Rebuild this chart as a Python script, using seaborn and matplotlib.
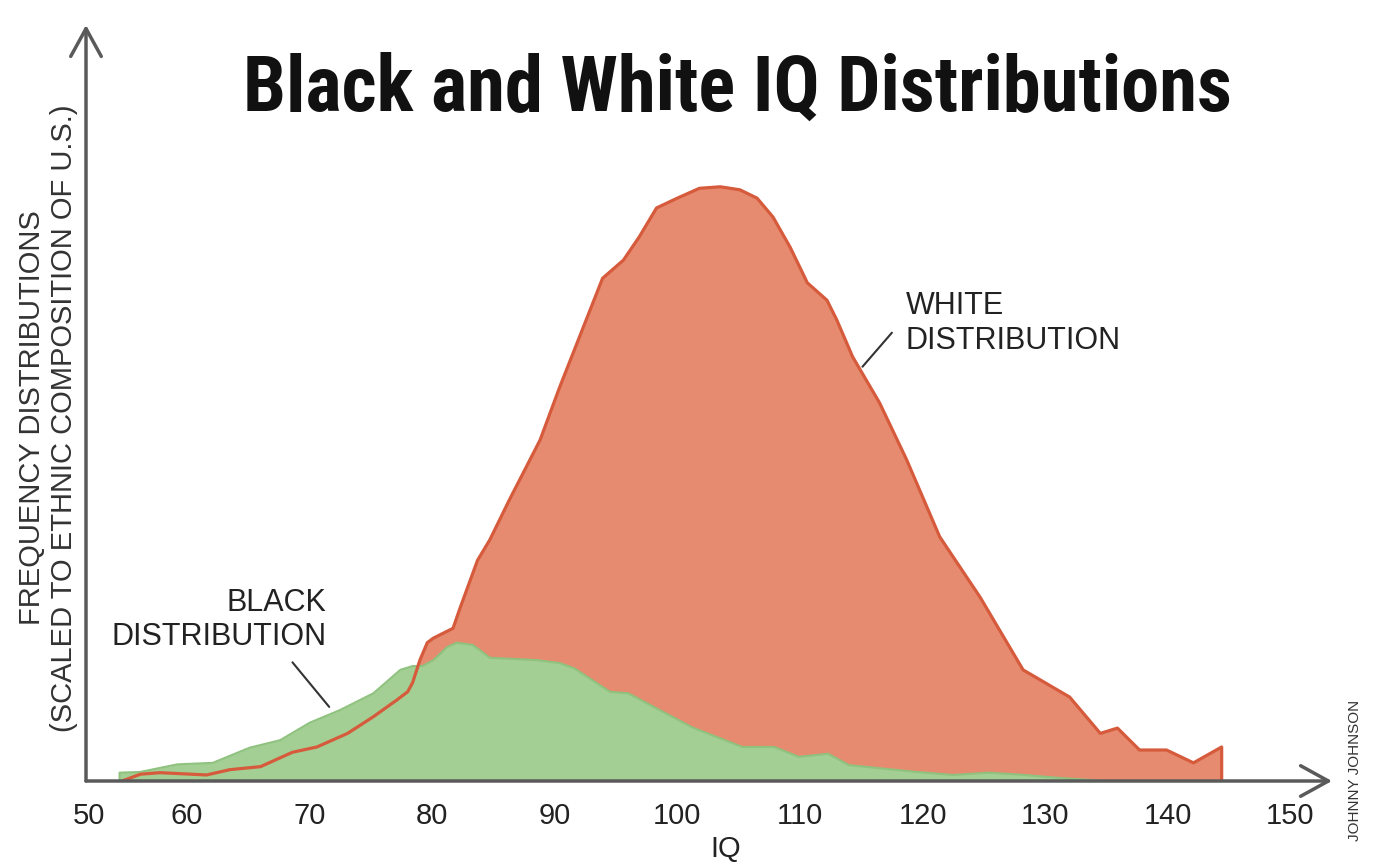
import numpy as np
import pandas as pd
import matplotlib
matplotlib.use('Agg')
import matplotlib.pyplot as plt
from matplotlib import font_manager
import seaborn as sns

# dados (QI x frequencia relativa, escala arbitraria 0-100)
white_iq = [54.7, 56.2, 57.8, 61.6, 63.5, 66.0, 68.6, 70.6, 73.1, 75.2, 77.1, 78.0, 78.4,
            79.0, 79.6, 80.1, 81.7, 82.3, 83.7, 84.7, 86.3, 88.8, 90.4, 93.9, 95.6, 96.9,
            98.3, 100.0, 101.8, 103.5, 105.1, 106.5, 107.8, 109.2, 110.6, 112.2, 113.0,
            114.3, 116.5, 118.7, 121.4, 124.7, 128.2, 132.0, 134.5, 135.9, 137.7, 139.9,
            142.1, 144.4, 144.4]
white_freq = [0, 0.9, 1.1, 0.8, 1.5, 1.9, 3.8, 4.5, 6.3, 8.5, 10.7, 11.8, 13.0,
              16.0, 18.3, 18.9, 20.2, 23.0, 29.2, 31.9, 37.2, 45.1, 52.1, 66.5, 68.9, 72.0,
              75.8, 77.1, 78.4, 78.6, 78.2, 77.1, 74.6, 70.6, 65.9, 63.6, 61.0,
              56.1, 50.0, 42.5, 32.3, 24.3, 14.7, 11.1, 6.3, 7.0, 4.1, 4.1,
              2.4, 4.5, 0]

black_iq = [54.5, 54.5, 56.2, 59.2, 62.1, 65.1, 67.6, 70.0, 72.5, 75.2, 77.4, 78.4, 79.2,
            80.1, 81.2, 82.0, 83.3, 83.9, 84.7, 88.5, 90.4, 91.6, 94.5, 96.0, 101.2, 105.3,
            107.9, 109.9, 112.3, 114.0, 119.5, 122.5, 125.4, 128.3, 131.2, 135.0]
black_freq = [0, 1.1, 1.2, 2.2, 2.4, 4.4, 5.4, 7.7, 9.4, 11.6, 14.7, 15.2, 15.2,
              16.0, 17.7, 18.3, 18.0, 17.3, 16.3, 16.0, 15.6, 14.9, 11.8, 11.6, 7.1, 4.5,
              4.5, 3.2, 3.6, 2.1, 1.2, 0.8, 1.1, 0.8, 0.4, 0]

tick_vals = [60, 70, 80, 90, 100, 110, 120, 130, 140, 150]

white_df = pd.DataFrame({'IQ': white_iq, 'freq': white_freq})
black_df = pd.DataFrame({'IQ': black_iq, 'freq': black_freq})

sns.set_style('white')
plt.rcParams['font.family'] = ['Liberation Sans', 'DejaVu Sans']

# fonte condensada para o titulo, se existir
nomes = {(f.name, f.stretch) for f in font_manager.fontManager.ttflist}
titulo_fam = ['Liberation Sans']
titulo_stretch = 'normal'
for nome in ['Liberation Sans Narrow', 'Roboto Condensed', 'Open Sans Condensed']:
    if any(n == nome for n, _ in nomes):
        titulo_fam = [nome]
        break
else:
    if ('DejaVu Sans', 'condensed') in nomes or ('DejaVu Sans', 'semi-condensed') in nomes:
        titulo_fam = ['DejaVu Sans']
        titulo_stretch = 'condensed'

fig = plt.figure(figsize=(13.75, 8.63), dpi=100)
ax = fig.add_axes([86 / 1375, 82 / 863, 1246 / 1375, 756 / 863])

red_fill = '#E68B6F'
red_line = '#D65B3C'
green_fill = '#A3CF94'
green_edge = '#8EC27E'
axis_col = '#5A5A5A'

# distribuicao branca (preenchimento), depois a preta por cima, depois o contorno branco
ax.fill_between(white_df['IQ'], 0, white_df['freq'], color=red_fill, lw=0, zorder=1)
ax.fill_between(black_df['IQ'], 0, black_df['freq'], color=green_fill, lw=0, zorder=1.2)
sns.lineplot(x='IQ', y='freq', data=black_df, ax=ax, color=green_edge, lw=1.5,
             estimator=None, sort=False, zorder=1.3)
sns.lineplot(x='IQ', y='freq', data=white_df, ax=ax, color=red_line, lw=2.3,
             estimator=None, sort=False, zorder=1.4)

ax.set_xlim(51.76, 153.4)
ax.set_ylim(0, 100)
ax.set_xlabel('')
ax.set_ylabel('')

for s in ax.spines.values():
    s.set_visible(False)

# eixos com setas
arrow = dict(arrowstyle='->,head_length=1.0,head_width=0.55', lw=2.5, color=axis_col,
             shrinkA=0, shrinkB=0, mutation_scale=20)
ax.annotate('', xy=(0, 1), xytext=(0, 0), xycoords='axes fraction', arrowprops=arrow,
            annotation_clip=False)
ax.annotate('', xy=(1, 0), xytext=(0, 0), xycoords='axes fraction', arrowprops=arrow,
            annotation_clip=False)

ax.set_axisbelow(False)
ax.set_yticks([])
ax.set_xticks(tick_vals)
ax.set_xticklabels([str(t) for t in tick_vals])
ax.tick_params(axis='x', direction='in', length=11, width=2, color='#333333',
               pad=15, labelsize=21, labelcolor='#222222')
fig.text(89 / 1375, 1 - 816 / 863, '50', fontsize=21, color='#222222',
         ha='center', va='center')

fig.text(726 / 1375, 1 - 849 / 863, 'IQ', fontsize=21, color='#222222',
         ha='center', va='center')

fig.text(48 / 1375, 1 - 418 / 863,
         'FREQUENCY DISTRIBUTIONS\n(SCALED TO ETHNIC COMPOSITION OF U.S.)',
         rotation=90, fontsize=21, color='#333333', ha='center', va='center',
         linespacing=1.2)

titulo = fig.text(737 / 1375, 1 - 90 / 863, 'Black and White IQ Distributions',
                  fontsize=50, fontweight='bold', color='#111111', ha='center',
                  va='center', family=titulo_fam, stretch=titulo_stretch)
# ajusta o tamanho do titulo para a largura do original (~990 px)
fig.canvas.draw()
larg = titulo.get_window_extent().width
titulo.set_fontsize(50 * 990 / larg)

# rotulos das distribuicoes com linhas de chamada
ax.text(118.6, 60.5, 'WHITE\nDISTRIBUTION', fontsize=22, color='#222222',
        ha='left', va='center', linespacing=1.2)
ax.plot([115.1, 117.5], [54.8, 59.3], color='#333333', lw=1.5, zorder=3)

ax.text(71.4, 21.3, 'BLACK\nDISTRIBUTION', fontsize=22, color='#222222',
        ha='right', va='center', multialignment='right', linespacing=1.2)
ax.plot([68.6, 71.6], [15.7, 9.8], color='#333333', lw=1.5, zorder=3)

fig.text(1355 / 1375, 1 - 700 / 863, 'JOHNNY JOHNSON', rotation=90, fontsize=11,
         color='#333333', ha='center', va='top')

plt.savefig('out.png', dpi=100)
plt.close()
